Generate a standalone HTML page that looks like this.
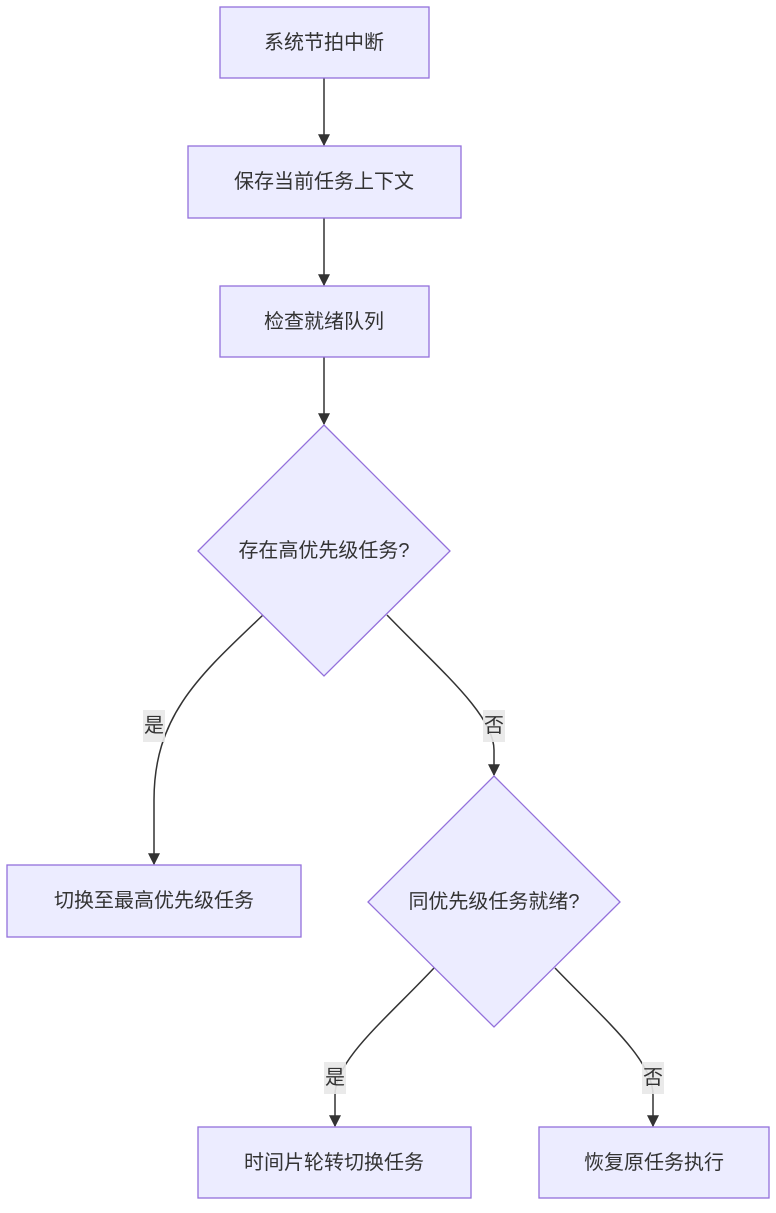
<!DOCTYPE html>
<html><head><meta charset="utf-8"><style>
html,body{margin:0;padding:0;background:#fff;}
svg text{font-family:"Liberation Sans","Noto Sans CJK SC",sans-serif;font-size:20px;fill:#333;}
</style></head><body>
<svg width="776" height="1208" viewBox="0 0 776 1208" xmlns="http://www.w3.org/2000/svg">
<defs><marker id="a" viewBox="0 0 10 10" refX="9" refY="5" markerWidth="8" markerHeight="8" orient="auto"><path d="M0,0L10,5L0,10z" fill="#333"/></marker></defs>
<g fill="none" stroke="#333" stroke-width="1.5">
<path d="M324,78V145" marker-end="url(#a)"/>
<path d="M324,218V285" marker-end="url(#a)"/>
<path d="M324,357V424" marker-end="url(#a)"/>
<path d="M263,615C200,675 154,715 154,800V864" marker-end="url(#a)"/>
<path d="M387,615C440,670 494,715 494,750V775" marker-end="url(#a)"/>
<path d="M434,968C385,1020 335,1060 335,1095V1126" marker-end="url(#a)"/>
<path d="M555,968C605,1020 653,1060 653,1095V1126" marker-end="url(#a)"/>
</g>
<g fill="#ECECFF" stroke="#9370DB" stroke-width="1.3">
<rect x="220" y="7" width="209" height="71"/>
<rect x="188" y="146" width="273" height="72"/>
<rect x="220" y="286" width="209" height="71"/>
<polygon points="324,425 450,551 324,676 198,551"/>
<rect x="7" y="865" width="294" height="72"/>
<polygon points="494,776 620,902 494,1027 368,902"/>
<rect x="198" y="1127" width="273" height="71"/>
<rect x="539" y="1127" width="230" height="71"/>
</g>
<g fill="#e8e8e8" opacity="0.9">
<rect x="143" y="710" width="22" height="32"/>
<rect x="483" y="710" width="22" height="32"/>
<rect x="324" y="1062" width="22" height="32"/>
<rect x="642" y="1062" width="22" height="32"/>
</g>
<g text-anchor="middle" dominant-baseline="central">
<text x="324" y="43">系统节拍中断</text>
<text x="324" y="182">保存当前任务上下文</text>
<text x="324" y="322">检查就绪队列</text>
<text x="324" y="551">存在高优先级任务?</text>
<text x="154" y="901">切换至最高优先级任务</text>
<text x="494" y="902">同优先级任务就绪?</text>
<text x="334" y="1163">时间片轮转切换任务</text>
<text x="654" y="1163">恢复原任务执行</text>
<text x="154" y="726">是</text>
<text x="494" y="726">否</text>
<text x="335" y="1078">是</text>
<text x="653" y="1078">否</text>
</g>
</svg>
</body></html>
